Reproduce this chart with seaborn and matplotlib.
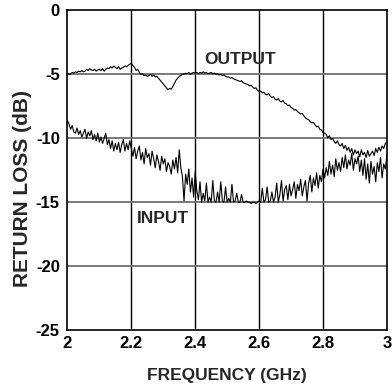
import numpy as np
import pandas as pd
import matplotlib
matplotlib.use("Agg")
import matplotlib.pyplot as plt
import seaborn as sns

# Frequency grid (GHz), 0.005 GHz steps
freq = [round(2.0 + 0.005 * i, 3) for i in range(201)]

input_rl = [
    -8.6, -8.9, -9.3, -9.0, -9.5, -9.6, -9.2, -9.7, -9.4, -9.9, -9.6,
    -9.3, -10.0, -9.5, -9.8, -9.4, -10.1, -9.7, -10.2, -9.6, -10.3,
    -9.9, -10.4, -10.0, -9.6, -10.5, -10.1, -10.8, -10.2, -11.0, -10.4,
    -10.9, -10.3, -11.1, -10.5, -10.1, -11.0, -10.4, -10.9, -10.2, -10.8,
    -11.4, -10.7, -11.6, -11.0, -10.6, -11.7, -11.1, -12.0, -10.8, -11.5,
    -11.2, -12.1, -11.0, -11.6, -12.3, -11.3, -11.8, -12.5, -11.4, -12.0,
    -11.6, -12.6, -11.9, -12.2, -12.8, -11.7, -12.4, -11.5, -12.7, -10.9,
    -12.3, -13.0, -14.9, -12.8, -13.6, -12.4, -14.2, -13.1, -14.6, -12.6,
    -14.1, -14.8, -13.4, -15.0, -14.3, -14.9, -13.5, -15.0, -14.6, -15.0,
    -13.3, -14.9, -15.0, -14.2, -15.0, -13.4, -14.9, -15.0, -13.8, -15.0,
    -14.7, -15.0, -13.6, -15.0, -14.9, -14.3, -15.0, -15.0, -14.4, -15.0,
    -15.0, -14.9, -15.0, -15.0, -15.1, -15.0, -15.0, -15.1, -15.0, -14.9,
    -15.0, -13.9, -15.0, -14.8, -13.8, -15.0, -14.9, -14.2, -15.0, -14.6,
    -13.5, -15.0, -14.4, -13.3, -14.9, -14.0, -13.7, -14.8, -13.6, -14.5,
    -14.0, -13.4, -14.7, -13.6, -14.1, -13.2, -14.5, -13.8, -13.3, -14.9,
    -13.5, -12.9, -14.2, -13.1, -13.7, -12.7, -13.9, -12.9, -13.4, -12.4,
    -13.1, -12.3, -12.9, -11.8, -12.8, -12.1, -13.0, -11.6, -12.5, -11.9,
    -12.6, -11.5, -12.3, -11.3, -12.4, -11.7, -12.1, -11.2, -12.5, -11.6,
    -12.0, -11.4, -12.6, -11.7, -12.9, -11.6, -13.2, -12.0, -13.5, -11.8,
    -12.8, -12.2, -13.4, -11.9, -12.6, -11.5, -13.1, -12.0, -12.4, -11.3,
]

output_rl = [
    -4.9, -5.0, -4.95, -4.85, -4.9, -4.8, -4.85, -4.75, -4.8, -4.7, -4.8,
    -4.75, -4.6, -4.7, -4.55, -4.65, -4.7, -4.6, -4.75, -4.65, -4.6,
    -4.7, -4.55, -4.75, -4.6, -4.5, -4.55, -4.4, -4.5, -4.35, -4.45,
    -4.55, -4.4, -4.6, -4.5, -4.45, -4.35, -4.4, -4.3, -4.2, -4.15,
    -4.3, -4.45, -4.7, -4.6, -4.85, -5.0, -4.95, -5.1, -5.05, -5.15,
    -5.1, -5.0, -5.15, -5.05, -5.2, -5.15, -5.3, -5.45, -5.6, -5.75,
    -5.9, -6.05, -6.2, -6.1, -6.15, -5.95, -5.7, -5.45, -5.3, -5.15,
    -5.1, -4.95, -5.0, -4.9, -4.95, -4.85, -5.0, -4.9, -4.85, -4.9,
    -4.85, -4.95, -4.85, -4.9, -4.8, -4.9, -4.85, -4.95, -4.9, -4.85,
    -4.95, -4.9, -5.0, -4.95, -5.05, -5.0, -5.1, -5.05, -5.15, -5.2,
    -5.2, -5.3, -5.25, -5.35, -5.4, -5.45, -5.5, -5.55, -5.5, -5.65,
    -5.7, -5.75, -5.8, -5.9, -5.85, -6.0, -6.1, -6.05, -6.25, -6.35,
    -6.3, -6.45, -6.4, -6.55, -6.6, -6.5, -6.7, -6.8, -6.75, -6.95,
    -7.0, -6.9, -7.1, -7.15, -7.05, -7.25, -7.3, -7.45, -7.4, -7.6,
    -7.65, -7.8, -7.75, -7.9, -8.0, -8.1, -8.05, -8.25, -8.4, -8.5,
    -8.55, -8.7, -8.8, -8.75, -8.95, -9.1, -9.05, -9.3, -9.35, -9.55,
    -9.6, -9.7, -9.95, -9.8, -10.1, -10.0, -10.25, -10.4, -10.2, -10.5,
    -10.6, -10.4, -10.8, -10.55, -10.95, -10.7, -11.1, -10.8, -11.3, -10.9,
    -11.2, -11.0, -11.45, -10.9, -11.3, -11.1, -11.5, -10.95, -11.4, -11.2,
    -11.0, -11.35, -10.8, -11.1, -10.7, -11.0, -10.6, -10.8, -10.4, -10.3,
]

x_ticks = [2, 2.2, 2.4, 2.6, 2.8, 3]
x_tick_labels = ["2", "2.2", "2.4", "2.6", "2.8", "3"]
y_ticks = [0, -5, -10, -15, -20, -25]
y_tick_labels = ["0", "-5", "-10", "-15", "-20", "-25"]

sns.set_theme(style="white")
plt.rcParams["font.family"] = ["Liberation Sans", "DejaVu Sans"]

df = pd.DataFrame({
    "freq": freq * 2,
    "rl": input_rl + output_rl,
    "trace": ["INPUT"] * len(freq) + ["OUTPUT"] * len(freq),
})

FS_TICK = 12
FS_LAB = 12.5
fig = plt.figure(figsize=(3.92, 3.87), dpi=100)
ax = fig.add_axes([0.172, 0.147, 0.815, 0.826])

# grid lines
for xv in x_ticks[1:-1]:
    ax.axvline(xv, color="black", lw=1.0, zorder=1)
for yv in y_ticks[1:-1]:
    ax.axhline(yv, color="#6e6e6e", lw=1.3, zorder=1)

sns.lineplot(data=df, x="freq", y="rl", units="trace", estimator=None,
             color="black", lw=0.8, ax=ax, legend=False, zorder=3)

ax.set_xlim(2, 3)
ax.set_ylim(-25, 0)
ax.set_xticks(x_ticks)
ax.set_xticklabels(x_tick_labels, fontsize=FS_TICK, fontweight="bold")
ax.set_yticks(y_ticks)
ax.set_yticklabels(y_tick_labels, fontsize=FS_TICK, fontweight="bold")
ax.tick_params(axis="x", length=0, pad=4, colors="black")
ax.tick_params(axis="y", length=0, pad=5.5, colors="black")
ax.set_xlabel("")
ax.set_ylabel("")
fig.text(0.579, 0.030, "FREQUENCY (GHz)", fontsize=FS_LAB, fontweight="bold",
         ha="center", va="center")
fig.text(0.057, 0.514, "RETURN LOSS (dB)", fontsize=15, fontweight="bold",
         ha="center", va="center", rotation=90)

for s in ax.spines.values():
    s.set_color("black")
    s.set_linewidth(1.2)

ax.text(2.427, -3.85, "OUTPUT", fontsize=FS_LAB, fontweight="bold", va="center", ha="left")
ax.text(2.216, -16.25, "INPUT", fontsize=FS_LAB, fontweight="bold", va="center", ha="left")

fig.savefig("out.png", dpi=100)
